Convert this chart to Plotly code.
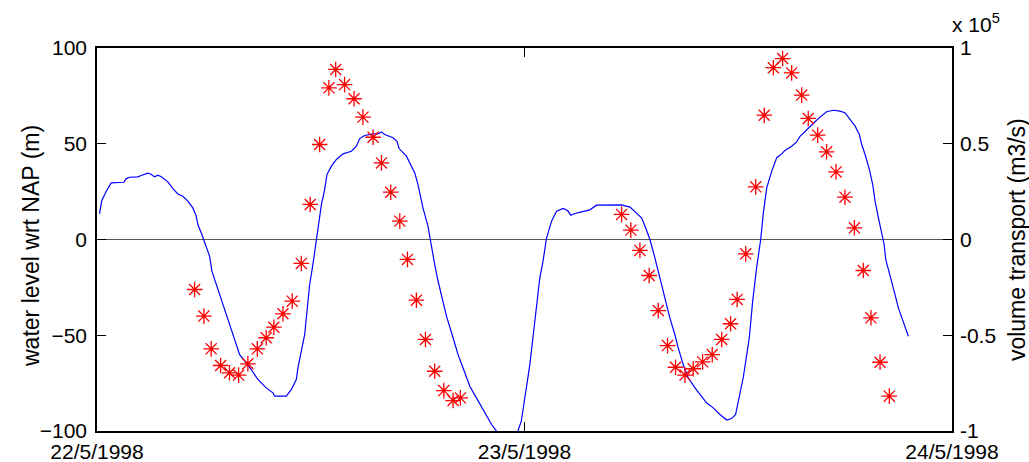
import pandas as pd
import plotly.graph_objects as go

# Water level (m wrt NAP), hours after 22/5/1998 00:00
level_hours = [0.14, 0.27, 0.52, 0.80, 1.51, 1.64, 1.83, 2.29, 2.48, 2.85,
               3.04, 3.23, 3.42, 3.61, 3.98, 4.26, 4.54, 4.82, 5.10, 5.38,
               5.57, 5.66, 5.85, 6.04, 6.32, 6.45, 6.70, 6.98, 7.35, 7.72,
               8.01, 8.29, 8.66, 9.03, 9.50, 9.88, 9.97, 10.63, 10.91, 11.19,
               11.28, 11.66, 11.94, 12.12, 12.31, 12.60, 12.78, 12.91, 13.16, 13.44,
               13.81, 14.28, 14.56, 14.75, 15.03, 15.50, 15.78, 15.97, 16.15, 16.62,
               16.84, 16.96, 17.37, 17.56, 17.84, 18.02, 18.30, 18.58, 18.72, 18.96,
               19.15, 19.43, 19.62, 19.99, 20.27, 20.65, 20.93, 21.30, 21.67, 22.15,
               22.43, 22.90, 23.30, 23.63, 23.82, 24.00, 24.30, 24.58, 24.86, 25.04,
               25.24, 25.52, 25.80, 26.17, 26.42, 26.60, 26.83, 27.20, 27.67, 28.04,
               28.61, 29.45, 29.92, 30.29, 30.57, 30.80, 31.04, 31.32, 31.60, 31.88,
               32.16, 32.44, 32.63, 32.91, 33.19, 33.57, 33.94, 34.22, 34.60, 34.97,
               35.35, 35.63, 35.85, 36.00, 36.28, 36.62, 36.81, 37.03, 37.26, 37.40,
               37.60, 37.88, 38.16, 38.44, 38.62, 39.00, 39.28, 39.47, 39.84, 40.21,
               40.59, 40.96, 41.34, 41.71, 41.99, 42.28, 42.56, 42.80, 42.93, 43.12,
               43.36, 43.55, 43.68, 43.87, 44.06, 44.19, 44.28, 44.52, 44.75, 44.99,
               45.18, 45.55]
level_m = [13.4, 20.4, 25.2, 29.6, 29.9, 31.8, 32.5, 32.7, 33.4, 34.6,
           34.1, 32.7, 33.6, 32.8, 30.1, 26.6, 23.8, 22.6, 20.0, 16.5,
           12.2, 7.8, 3.5, -1.7, -8.7, -16.5, -23.5, -32.2, -42.7, -53.1,
           -60.1, -63.5, -67.9, -73.1, -77.5, -80.1, -81.8, -81.8, -78.3, -73.1,
           -67.0, -49.6, -23.5, -13.1, 0.0, 18.3, 26.1, 33.9, 38.3, 41.8,
           44.7, 46.1, 48.7, 52.7, 54.3, 55.2, 55.2, 56.2, 54.8, 53.1,
           51.3, 47.5, 43.5, 40.0, 34.8, 28.7, 16.5, 7.0, -0.9, -13.1,
           -21.8, -32.2, -40.0, -51.3, -60.1, -69.6, -76.6, -82.7, -88.8, -96.6,
           -100.1, -104.0, -103.0, -100.0, -94.9, -83.5, -65.3, -42.7, -20.0, -11.3,
           0.9, 9.6, 14.8, 16.2, 15.1, 12.7, 13.6, 14.4, 15.5, 17.9,
           18.1, 18.1, 16.9, 13.9, 11.3, 6.1, 0.0, -9.6, -20.0, -30.5,
           -40.9, -49.6, -56.6, -65.3, -72.2, -77.5, -81.8, -85.3, -87.9, -91.4,
           -94.3, -93.5, -91.4, -84.4, -72.2, -51.3, -32.2, -14.8, 0.0, 13.1,
           27.0, 35.7, 42.7, 44.7, 46.5, 48.7, 51.0, 53.9, 57.4, 60.6,
           63.9, 66.7, 67.5, 67.0, 66.2, 62.7, 59.2, 54.8, 49.6, 44.4,
           36.6, 28.7, 20.0, 11.3, 3.5, -2.6, -10.4, -18.3, -27.0, -35.7,
           -40.9, -50.5]

# Volume transport (m3/s), half-hourly observations
transport_hours = [5.48, 6.00, 6.41, 6.94, 7.44, 7.95, 8.47, 9.00, 9.50, 9.93,
                   10.44, 10.96, 11.47, 11.97, 12.50, 13.02, 13.40, 13.90, 14.43, 14.93,
                   15.50, 15.97, 16.49, 17.00, 17.43, 17.93, 18.44, 18.96, 19.47, 19.99,
                   20.40,
                   29.45, 29.97, 30.48, 31.00, 31.51, 32.03, 32.48, 33.01, 33.47, 34.00,
                   34.54, 35.07, 35.57, 35.94, 36.42, 36.98, 37.46, 37.97, 38.49, 39.00,
                   39.56, 39.93, 40.46, 40.96, 41.49, 41.99, 42.52, 43.02, 43.45, 43.96,
                   44.48]
transport_m3s = [-26100, -40000, -57100, -65800, -69600, -70800, -64900, -57100, -51300, -45800,
                 -38800, -32200, -12500, 18300, 49600, 79200, 88800, 80900, 73500, 63900,
                 53400, 40000, 24700, 9600, -10400, -31700, -52200, -68800, -78900, -84100,
                 -82700,
                 13100, 4900, -5700, -18800, -37100, -55400, -66700, -70800, -67500, -63900,
                 -60100, -52200, -44000, -31300, -7500, 27500, 64900, 89700, 94500, 87000,
                 75400, 63200, 54500, 45800, 35300, 22100, 6100, -16200, -40900, -64100,
                 -81800]

date_ticks = ["1998-05-22", "1998-05-23", "1998-05-24"]
date_labels = ["22/5/1998", "23/5/1998", "24/5/1998"]
level_ticks = [-100, -50, 0, 50, 100]
transport_ticks = [-100000, -50000, 0, 50000, 100000]
transport_labels = ["-1", "-0.5", "0", "0.5", "1"]

start = pd.Timestamp("1998-05-22")
t_level = start + pd.to_timedelta(level_hours, unit="h")
t_transport = start + pd.to_timedelta(transport_hours, unit="h")

FONT = "Arial, Liberation Sans, sans-serif"

fig = go.Figure()
fig.add_trace(go.Scatter(
    x=t_level, y=level_m, mode="lines",
    line=dict(color="#0000ff", width=1.2),
    name="water level", showlegend=False,
))
fig.add_trace(go.Scatter(
    x=t_transport, y=transport_m3s, mode="markers", yaxis="y2",
    marker=dict(symbol="asterisk-open", size=13, color="#ff0000",
                line=dict(color="#ff0000", width=1.3)),
    name="volume transport", showlegend=False,
))

fig.update_layout(
    width=1029, height=462,
    margin=dict(l=97, r=77, t=48, b=31, autoexpand=False),
    paper_bgcolor="white", plot_bgcolor="white",
    font=dict(family=FONT, size=21, color="black"),
    xaxis=dict(
        range=[date_ticks[0], date_ticks[-1]],
        tickvals=date_ticks, ticktext=date_labels,
        ticks="inside", ticklen=9, tickcolor="black",
        showline=True, linecolor="black", linewidth=1.5,
        mirror="ticks", showgrid=False, zeroline=False,
        automargin=False, ticklabelstandoff=1,
    ),
    yaxis=dict(
        range=[-100, 100], tickvals=level_ticks,
        ticks="inside", ticklen=9, tickcolor="black",
        showline=True, linecolor="black", linewidth=1.5,
        showgrid=False, zeroline=True, zerolinecolor="#555555", zerolinewidth=1,
        automargin=False, ticklabelstandoff=4,
    ),
    yaxis2=dict(
        range=[-100000, 100000], tickvals=transport_ticks, ticktext=transport_labels,
        overlaying="y", side="right",
        ticks="inside", ticklen=9, tickcolor="black",
        showline=True, linecolor="black", linewidth=1.5,
        showgrid=False, zeroline=False,
        automargin=False, ticklabelstandoff=2,
    ),
    annotations=[
        dict(text="water level wrt NAP (m)", xref="paper", yref="paper",
             x=-0.0772, y=0.483, xanchor="center", yanchor="middle",
             textangle=-90, showarrow=False, font=dict(size=23)),
        dict(text="volume transport (m3/s)", xref="paper", yref="paper",
             x=1.076, y=0.501, xanchor="center", yanchor="middle",
             textangle=-90, showarrow=False, font=dict(size=23)),
        dict(text="x 10<sup>5</sup>", xref="paper", yref="paper",
             x=0.998, y=1.025, xanchor="left", yanchor="bottom",
             showarrow=False, font=dict(size=21)),
    ],
)

fig.write_html("out.html")
